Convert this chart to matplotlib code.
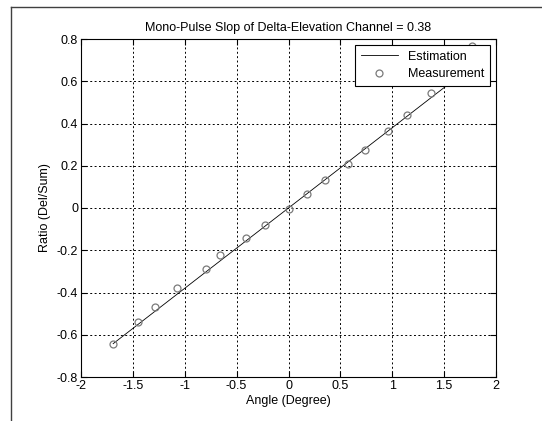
import matplotlib.pyplot as plt
from matplotlib.lines import Line2D

plt.rcParams['font.family'] = ['Liberation Sans', 'DejaVu Sans']

angle = [-1.69, -1.45, -1.29, -1.07, -0.80, -0.66, -0.41, -0.23, 0.0,
         0.18, 0.35, 0.57, 0.74, 0.96, 1.14, 1.37, 1.77]
ratio = [-0.643, -0.542, -0.467, -0.377, -0.287, -0.224, -0.141, -0.081, -0.003,
         0.067, 0.132, 0.209, 0.274, 0.365, 0.441, 0.545, 0.765]
slope = 0.38

xticks = [-2, -1.5, -1, -0.5, 0, 0.5, 1, 1.5, 2]
xtick_labels = ["-2", "-1.5", "-1", "-0.5", "0", "0.5", "1", "1.5", "2"]
yticks = [-0.8, -0.6, -0.4, -0.2, 0, 0.2, 0.4, 0.6, 0.8]
ytick_labels = ["-0.8", "-0.6", "-0.4", "-0.2", "0", "0.2", "0.4", "0.6", "0.8"]

fig = plt.figure(figsize=(5.42, 4.21), dpi=100)
ax = fig.add_axes([81 / 542, 1 - 377 / 421, 415 / 542, 338 / 421])

est_x = [min(angle), max(angle)]
est_y = [slope * v for v in est_x]
ax.plot(est_x, est_y, color='black', linewidth=0.6, label='Estimation')
ax.plot(angle, ratio, linestyle='none', marker='o', markersize=5,
        markerfacecolor='none', markeredgecolor='#7a7a7a', markeredgewidth=0.9,
        label='Measurement')

ax.set_xlim(-2, 2)
ax.set_ylim(-0.8, 0.8)
ax.set_xticks(xticks)
ax.set_xticklabels(xtick_labels)
ax.set_yticks(yticks)
ax.set_yticklabels(ytick_labels)
ax.tick_params(direction='in', top=True, right=True, length=4, width=0.8,
               labelsize=9, colors='black', pad=2)
ax.grid(True, color='black', linestyle=(0, (2, 2.5)), linewidth=0.7)
for s in ax.spines.values():
    s.set_linewidth(0.8)

ax.set_title("Mono-Pulse Slop of Delta-Elevation Channel = 0.38", fontsize=9, pad=6)
ax.set_xlabel("Angle (Degree)", fontsize=9, labelpad=2)
ax.set_ylabel("Ratio (Del/Sum)", fontsize=9, labelpad=4)

leg = ax.legend(loc='upper right', bbox_to_anchor=(0.986, 0.982), borderaxespad=0,
                fancybox=False, framealpha=1, edgecolor='black', fontsize=9,
                handlelength=3.0, borderpad=0.45, labelspacing=0.45)
leg.get_frame().set_linewidth(0.8)

# window frame edges
fig.add_artist(Line2D([11 / 542, 11 / 542], [0, 1 - 7 / 421], color='#404040', linewidth=1))
fig.add_artist(Line2D([11 / 542, 1], [1 - 7 / 421, 1 - 7 / 421], color='#404040', linewidth=1))

fig.savefig("out.png", dpi=100)
